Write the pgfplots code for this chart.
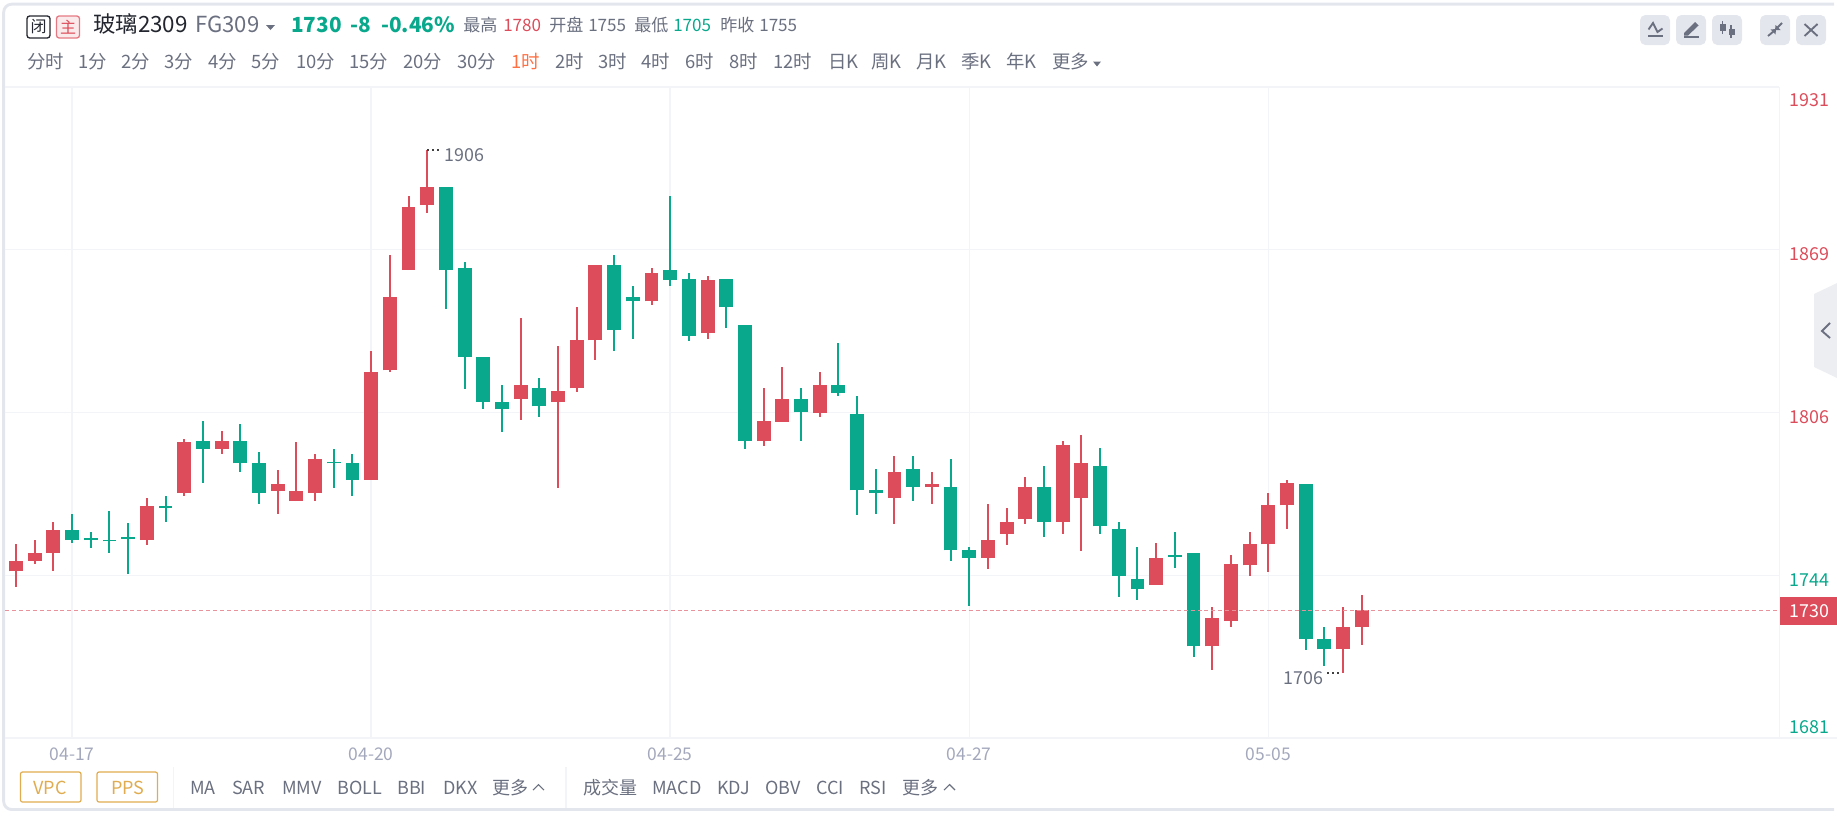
\documentclass[border=0pt]{standalone}
\usepackage{pgfplots}
\usepackage{pgfplotstable}
\usepackage{fontspec}
\pgfplotsset{compat=1.18}
\setmainfont{Noto Sans CJK SC}
\definecolor{upc}{HTML}{DC4C5A}
\definecolor{dnc}{HTML}{09A88C}
\definecolor{gridc}{HTML}{F3F4F8}
\definecolor{framec}{HTML}{E4E6EE}
\definecolor{greyt}{HTML}{6B7080}
\definecolor{axt}{HTML}{A4A8BC}
\definecolor{orc}{HTML}{FF7043}
\definecolor{vpc}{HTML}{E0AC50}
\definecolor{dashc}{HTML}{E8929B}
\definecolor{darkt}{HTML}{23262F}
\definecolor{tabc}{HTML}{EDEEF2}
\pgfplotstableread{
i l bb bt h
0 1739.1 1745 1749 1755.4
1 1748 1749 1752 1757
2 1745 1752 1761 1764
7 1755 1757 1770 1773
9 1774 1775 1794.5 1796
11 1790 1792 1795 1799
14 1767 1776 1778.4 1784
15 1772 1772 1776 1794.5
16 1772 1775 1788 1790
19 1780 1780 1821.6 1829.6
20 1821.6 1822.2 1850.4 1866.5
21 1860.7 1860.7 1885 1889
22 1882.6 1885.6 1892.5 1906.8
27 1803.1 1811.2 1816.4 1842.3
29 1777.1 1810 1814.1 1831.4
30 1814 1815.3 1833.7 1846.4
31 1826.2 1833.7 1862.5 1862.5
34 1847.4 1848.7 1859.6 1861.4
37 1834.2 1836.5 1856.8 1858.4
40 1793.3 1795 1802.6 1815.3
41 1802.5 1802.5 1811.2 1823.4
43 1804.3 1806 1816.4 1821.6
47 1763.3 1773.2 1783 1789.3
49 1770.9 1777.3 1778.4 1783
52 1746 1750.1 1757.1 1770.9
53 1755.3 1759.4 1764 1769.2
54 1763.3 1765.1 1777.3 1781.2
56 1759.4 1764 1793.4 1795.1
57 1753 1773.2 1786.5 1797.4
61 1739.8 1739.8 1750.1 1755.9
64 1707 1716.2 1727.1 1731.2
65 1723.6 1725.9 1747.8 1751.3
66 1743.2 1747.3 1755.4 1760
67 1744.9 1755.4 1770.3 1774.9
68 1761.1 1770.3 1778.9 1780.1
71 1705.8 1715 1723.6 1731.2
72 1716.7 1723.6 1730 1735.8
}\upt
\pgfplotstableread{
i l bb bt h
3 1756 1757 1761 1767
4 1754 1757 1758 1760
5 1752 1756.5 1757 1768
6 1744 1757.6 1758.2 1763.4
8 1764 1769.5 1770 1774
10 1779 1792 1795 1802.6
12 1783 1786.5 1795 1801.5
13 1771 1775 1786.5 1791
17 1777 1786.5 1787 1792
18 1774 1780 1786.5 1790
23 1845.8 1860.7 1892.5 1892.5
24 1815.2 1827.3 1861.4 1863.7
25 1807.2 1810 1827.3 1827.3
26 1798.5 1807.2 1810 1816.4
28 1804.3 1808.4 1815.3 1819.3
32 1829.6 1837.7 1862.5 1866.5
33 1834.2 1848.7 1850.4 1854.5
35 1854.5 1856.8 1860.7 1889
36 1833.6 1835.4 1857.3 1859.6
38 1838.3 1846.4 1857.3 1857.3
39 1792.1 1795 1839.5 1839.5
42 1795 1806.1 1811.2 1815.3
44 1812.3 1813.6 1816.4 1832.6
45 1766.8 1776.1 1805.4 1812.3
46 1766.9 1775 1776.1 1784.2
48 1772 1777.3 1784.2 1789.3
50 1749 1753.1 1777.3 1788.2
51 1731.7 1750.1 1753.1 1754.2
55 1758.2 1764 1777.3 1785.3
58 1759.4 1762.3 1785.3 1792.3
59 1735.2 1743.2 1761.1 1764
60 1734 1738.1 1742.1 1754.2
62 1746.1 1750.7 1751.3 1760
63 1712.1 1716.2 1751.9 1751.9
69 1714.9 1719 1778.4 1778.4
70 1708.6 1715 1719 1723.6
}\dnt
\newcommand\T[5]{\node[anchor=base west,inner sep=0pt,text=#4] at (#1,#2) {\fontsize{#3}{#3}\selectfont #5};}
\begin{document}
\begin{tikzpicture}[x=0.75pt,y=-0.75pt]
\path[use as bounding box] (0,0) rectangle (1837,815);
\draw[framec,line width=2.2pt,rounded corners=6pt] (1834,4.2) -- (3.7,4.2) -- (3.7,809.5) -- (1834,809.5);
\begin{axis}[
  at={(3.75pt,-553.5pt)},anchor=south west,
  scale only axis,width=1330.7pt,height=488.25pt,
  xmin=-0.5886,xmax=94.34,ymin=1681,ymax=1931,
  axis line style={draw=none},tick style={draw=none},
  major tick length=0pt,
  grid=major,grid style={gridc,line width=1.1pt},
  xtick={3,19,35,51,67},
  xticklabels={04-17,04-20,04-25,04-27,05-05},
  ytick={1681,1743.5,1806,1868.5,1931},
  yticklabels={
    \raisebox{3.4pt}{\textcolor{dnc}{1681}},
    \raisebox{-8.6pt}{\textcolor{dnc}{1744}},
    \raisebox{-8.6pt}{\textcolor{upc}{1806}},
    \raisebox{-7.9pt}{\textcolor{upc}{1869}},
    \raisebox{-14.5pt}{\textcolor{upc}{1931}}},
  ticklabel pos=right,
  xticklabel pos=lower,
  xticklabel style={anchor=base,inner sep=0pt,yshift=-16.8pt,text=axt,font=\fontsize{13.1}{13.1}\selectfont},
  yticklabel style={anchor=base west,inner sep=0pt,xshift=7.3pt,font=\fontsize{13.4}{13.4}\selectfont},
]
\addplot[draw=none,no marks,forget plot,error bars/.cd,y dir=both,y explicit,error mark=none,error bar style={upc,line width=1.5pt}]
  table[x=i,y=bb,y error plus expr=\thisrow{h}-\thisrow{bb},y error minus expr=\thisrow{bb}-\thisrow{l}]{\upt};
\addplot[draw=none,no marks,forget plot,error bars/.cd,y dir=plus,y explicit,error mark=none,error bar style={upc,line width=10.4pt}]
  table[x=i,y=bb,y error plus expr=\thisrow{bt}-\thisrow{bb}]{\upt};
\addplot[draw=none,no marks,forget plot,error bars/.cd,y dir=both,y explicit,error mark=none,error bar style={dnc,line width=1.5pt}]
  table[x=i,y=bb,y error plus expr=\thisrow{h}-\thisrow{bb},y error minus expr=\thisrow{bb}-\thisrow{l}]{\dnt};
\addplot[draw=none,no marks,forget plot,error bars/.cd,y dir=plus,y explicit,error mark=none,error bar style={dnc,line width=10.4pt}]
  table[x=i,y=bb,y error plus expr=\thisrow{bt}-\thisrow{bb}]{\dnt};
\addplot[dashc,line width=0.9pt,dash pattern=on 3pt off 2.2pt,forget plot] coordinates {(-0.5886,1730)(94.34,1730)};
\end{axis}
% frame lines of the chart
\draw[gridc,line width=1.1pt] (1779.3,87) -- (1779.3,738);
\draw[gridc,line width=1.1pt] (1779,738) -- (1837,738);
% last price tag
\fill[upc] (1779.5,597) rectangle (1837,625);
\T{1789}{617.5}{13.4}{white}{1730}
% high / low notes
\draw[black!75,line width=0.9pt,dash pattern=on 1.2pt off 2.6pt] (427,150) -- (442,150);
\T{444.5}{161}{13.4}{greyt}{1906}
\draw[black!75,line width=0.9pt,dash pattern=on 1.2pt off 2.6pt] (1327,673) -- (1342,673);
\T{1283}{684}{13.4}{greyt}{1706}
% header row 1
\draw[darkt,line width=1pt,rounded corners=2pt,fill=white] (27,16) rectangle (50,38);
\node[inner sep=0pt,text=darkt] at (38.5,27) {\fontsize{12}{12}\selectfont 闭};
\draw[upc!75,line width=1pt,rounded corners=2pt,fill=upc!12] (56.5,16) rectangle (79.5,38);
\node[inner sep=0pt,text=upc] at (68,27) {\fontsize{12}{12}\selectfont 主};
\T{93}{32.5}{16.8}{darkt}{玻璃2309}
\T{195}{32.5}{16.6}{greyt}{FG309}
\fill[greyt] (266,25) -- (275,25) -- (270.5,30) -- cycle;
\T{291}{32.5}{15.6}{dnc}{\bfseries 1730}
\T{350}{32.5}{15.6}{dnc}{\bfseries -8}
\T{381}{32.5}{15.6}{dnc}{\bfseries -0.46\%}
\T{463}{31.5}{12.8}{greyt}{最高}
\T{503}{31.5}{12.8}{upc}{1780}
\T{549}{31.5}{12.8}{greyt}{开盘}
\T{588}{31.5}{12.8}{greyt}{1755}
\T{634}{31.5}{12.8}{greyt}{最低}
\T{673}{31.5}{12.8}{dnc}{1705}
\T{720}{31.5}{12.8}{greyt}{昨收}
\T{759}{31.5}{12.8}{greyt}{1755}
% header row 2
\foreach \xx/\tt in {27/分时,78/1分,121/2分,164/3分,208/4分,251/5分,296/10分,349/15分,403/20分,457/30分,555/2时,598/3时,641/4时,685/6时,729/8时,773/12时,828/日K,871/周K,916/月K,961/季K,1006/年K,1052/更多}{
  \T{\xx}{68.5}{13.8}{greyt}{\tt}
}
\T{511}{68.5}{13.8}{orc}{1时}
\fill[greyt] (1093,61.5) -- (1101,61.5) -- (1097,66.5) -- cycle;
% top right buttons
\foreach \xa in {1640,1676,1712,1760,1796}{
  \fill[framec,rounded corners=4pt] (\xa,15) rectangle ({\xa+30},45);
}
\begin{scope}[greyt,line width=1.4pt]
\draw (1648.5,29.5) -- (1653,23) -- (1657.5,32) -- (1662.5,28.5);
\draw (1648,36) -- (1662.5,36);
\fill (1684,33) -- (1695,22) -- (1698.5,25.5) -- (1688,35.5) -- (1684,35.5) -- cycle;
\draw (1684,37) -- (1698.5,37);
\draw[line width=1pt] (1722.5,21) -- (1722.5,34);
\fill (1720,24) rectangle (1725.5,31);
\draw[line width=1pt] (1731,25) -- (1731,38);
\fill (1728.5,28.5) rectangle (1734.5,35);
\draw (1768,36) -- (1774,31);
\fill (1776,29) -- (1770.5,29.5) -- (1775.5,34.5) -- cycle;
\draw (1782,23) -- (1777,28);
\fill (1775,30) -- (1780.5,30) -- (1775.5,25) -- cycle;
\draw (1804.5,24) -- (1817.5,36);
\draw (1817.5,24) -- (1804.5,36);
\end{scope}
% side tab
\fill[tabc] (1837,283) -- (1814,294) -- (1814,367) -- (1837,378) -- cycle;
\draw[greyt,line width=1.4pt] (1830,323) -- (1822,331) -- (1830,338);
% bottom bar
\draw[vpc,line width=0.9pt,rounded corners=1.5pt] (20.5,772) rectangle (81,802);
\draw[vpc,line width=0.9pt,rounded corners=1.5pt] (97,772) rectangle (157.5,802);
\T{33}{794}{13.5}{vpc}{VPC}
\T{111}{794}{13.5}{vpc}{PPS}
\draw[gridc,line width=1pt] (173.5,767) -- (173.5,808);
\draw[gridc,line width=1pt] (566,767) -- (566,808);
\foreach \xx/\tt in {190/MA,232/SAR,282/MMV,337/BOLL,397/BBI,443/DKX,492/更多,583.5/成交量,652/MACD,717/KDJ,765/OBV,816/CCI,859/RSI,902/更多}{
  \T{\xx}{794}{13.5}{greyt}{\tt}
}
\draw[greyt,line width=0.8pt] (533,790) -- (538.5,784.5) -- (544,790);
\draw[greyt,line width=0.8pt] (944,790) -- (949.5,784.5) -- (955,790);
\end{tikzpicture}
\end{document}
